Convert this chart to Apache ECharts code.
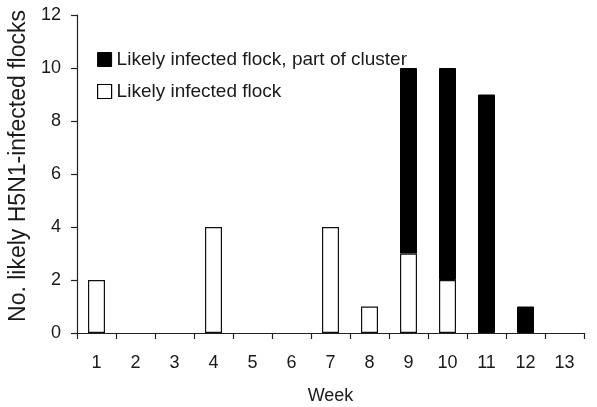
<!DOCTYPE html>
<html>
<head>
<meta charset="utf-8">
<script src="https://cdn.jsdelivr.net/npm/echarts@6/dist/echarts.min.js"></script>
<style>html,body{margin:0;padding:0;background:#fff;}#c{width:597px;height:407px;}</style>
</head>
<body>
<div id="c"></div>
<script>
var weeks = ['1','2','3','4','5','6','7','8','9','10','11','12','13'];
var likelyFlock = [2, '-', '-', 4, '-', '-', 4, 1, 3, 2, '-', '-', '-'];
var clusterFlock = ['-', '-', '-', '-', '-', '-', '-', '-', 7, 8, 9, 1, '-'];
var seriesNames = ['Likely infected flock, part of cluster', 'Likely infected flock'];
var yTitle = 'No. likely H5N1-infected flocks';
var xTitle = 'Week';

var chart = echarts.init(document.getElementById('c'));
var txt = '#1a1a1a';
var font = 'Liberation Sans, Arial, sans-serif';
chart.setOption({
  animation: false,
  backgroundColor: '#fff',
  textStyle: { fontFamily: font },
  grid: { left: 77, right: 13, top: 15, bottom: 74, containLabel: false, outerBoundsMode: 'none' },
  legend: {
    orient: 'vertical',
    left: 92,
    top: 45,
    itemWidth: 14,
    itemHeight: 14,
    itemGap: 13,
    icon: 'rect',
    textStyle: { fontSize: 19, color: txt, fontFamily: font },
    data: [
      { name: seriesNames[0], itemStyle: { color: '#000', borderColor: '#000', borderWidth: 1 } },
      { name: seriesNames[1], itemStyle: { color: '#fff', borderColor: '#000', borderWidth: 1.2 } }
    ]
  },
  xAxis: {
    type: 'category',
    data: weeks,
    name: xTitle,
    nameLocation: 'middle',
    nameGap: 54,
    nameTextStyle: { fontSize: 18, color: txt, fontFamily: font },
    axisLine: { lineStyle: { color: '#222', width: 1.2 } },
    axisTick: { show: true, length: 6, lineStyle: { color: '#222', width: 1.2 } },
    axisLabel: { fontSize: 18, color: txt, margin: 21, fontFamily: font },
    splitLine: { show: false }
  },
  yAxis: {
    type: 'value',
    min: 0,
    max: 12,
    interval: 2,
    name: yTitle,
    nameLocation: 'middle',
    nameGap: 47,
    nameTextStyle: { fontSize: 23, color: txt, fontFamily: font, padding: [0, 0, 0, 16] },
    axisLine: { show: true, lineStyle: { color: '#222', width: 1.2 } },
    axisTick: { show: true, length: 6, lineStyle: { color: '#222', width: 1.2 } },
    axisLabel: { fontSize: 18, color: txt, margin: 16, fontFamily: font },
    splitLine: { show: false }
  },
  series: [
    {
      name: seriesNames[1],
      type: 'bar',
      stack: 'total',
      barWidth: 17,
      data: likelyFlock,
      itemStyle: { color: '#fff', borderColor: '#111', borderWidth: 1.2 }
    },
    {
      name: seriesNames[0],
      type: 'bar',
      stack: 'total',
      barWidth: 17,
      data: clusterFlock,
      itemStyle: { color: '#000', borderColor: '#000', borderWidth: 1 }
    }
  ]
});
</script>
</body>
</html>
